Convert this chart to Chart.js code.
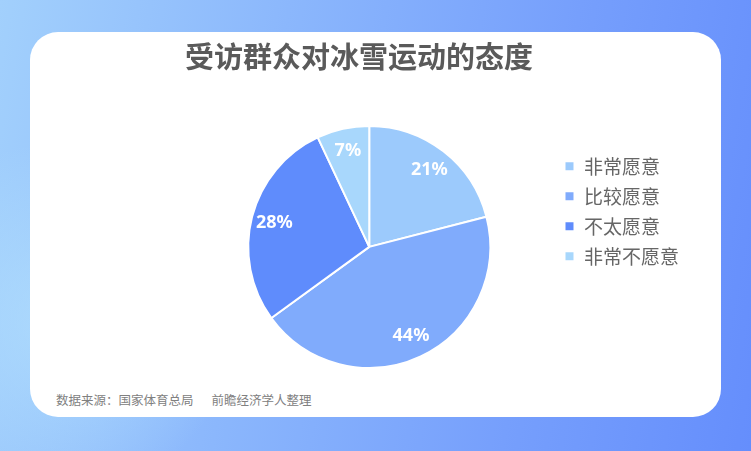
<!DOCTYPE html>
<html>
<head>
<meta charset="utf-8">
<script src="https://cdn.jsdelivr.net/npm/chart.js@4.4.1/dist/chart.umd.min.js"></script>
<style>
	html, body {
		margin: 0;
		padding: 0;
	}
	body {
		width: 751px;
		height: 451px;
		position: relative;
		overflow: hidden;
		background: linear-gradient(100deg, #a2d0fc 0%, #8bb7fc 35%, #769ffc 70%, #658efc 100%);
	}
	.glow {
		position: absolute;
		left: -120px;
		top: 140px;
		width: 360px;
		height: 360px;
		border-radius: 50%;
		background: radial-gradient(circle, rgba(180, 225, 253, 0.7) 0%, rgba(180, 225, 253, 0) 70%);
	}
	.card {
		position: absolute;
		left: 30px;
		top: 32px;
		width: 691px;
		height: 385px;
		background: #fff;
		border-radius: 28px;
	}
	.source {
		position: absolute;
		left: 56px;
		top: 390px;
		font-family: "Noto Sans CJK SC", sans-serif;
		font-size: 12.5px;
		color: #808080;
		white-space: nowrap;
	}
	.source span + span {
		margin-left: 18px;
	}
	#chart {
		position: absolute;
		left: 0;
		top: 0;
	}
</style>
</head>
<body>
<div class="glow"></div>
<div class="card"></div>
<div class="source"><span>数据来源：国家体育总局</span><span>前瞻经济学人整理</span></div>
<canvas id="chart" width="751" height="451"></canvas>
<script>
	var chartTitle = '受访群众对冰雪运动的态度';
	var categories = ['非常愿意', '比较愿意', '不太愿意', '非常不愿意'];
	var shares = [21, 44, 28, 7];
	var sliceColors = ['#9ccafc', '#80abfc', '#5f8cfc', '#a8d7fc'];

	// white percentage labels, placed at 0.81 of the radius on each slice's middle angle
	var sliceLabels = {
		id: 'sliceLabels',
		afterDatasetsDraw: function(chart) {
			var ctx = chart.ctx;
			var meta = chart.getDatasetMeta(0);
			ctx.save();
			ctx.fillStyle = '#ffffff';
			ctx.font = 'bold 18px "Noto Sans", "Noto Sans CJK SC", sans-serif';
			ctx.textAlign = 'center';
			ctx.textBaseline = 'middle';
			meta.data.forEach(function(arc, i) {
				var p = arc.getProps(['x', 'y', 'startAngle', 'endAngle', 'outerRadius'], true);
				var mid = (p.startAngle + p.endAngle) / 2;
				var r = p.outerRadius * 0.81;
				ctx.fillText(shares[i] + '%', p.x + Math.cos(mid) * r, p.y + Math.sin(mid) * r);
			});
			ctx.restore();
		}
	};

	new Chart(document.getElementById('chart'), {
		type: 'pie',
		data: {
			labels: categories,
			datasets: [{
				data: shares,
				backgroundColor: sliceColors,
				borderColor: '#ffffff',
				borderWidth: 2,
				radius: 121,
				clip: false
			}]
		},
		options: {
			responsive: false,
			animation: false,
			events: [],
			layout: {
				padding: {
					top: 0,
					left: 185,
					right: 62,
					bottom: 103
				}
			},
			plugins: {
				title: {
					display: true,
					text: chartTitle,
					align: 'start',
					color: '#5a5a5a',
					font: {
						family: '"Noto Sans CJK SC", sans-serif',
						size: 29,
						weight: 'bold'
					},
					padding: {
						top: 40,
						bottom: 71
					}
				},
				legend: {
					position: 'right',
					align: 'start',
					fullSize: false,
					labels: {
						boxWidth: 10,
						boxHeight: 10,
						padding: 11,
						color: '#666666',
						font: {
							family: '"Noto Sans CJK SC", sans-serif',
							size: 19
						}
					}
				},
				tooltip: {
					enabled: false
				}
			}
		},
		plugins: [sliceLabels]
	});
</script>
</body>
</html>
